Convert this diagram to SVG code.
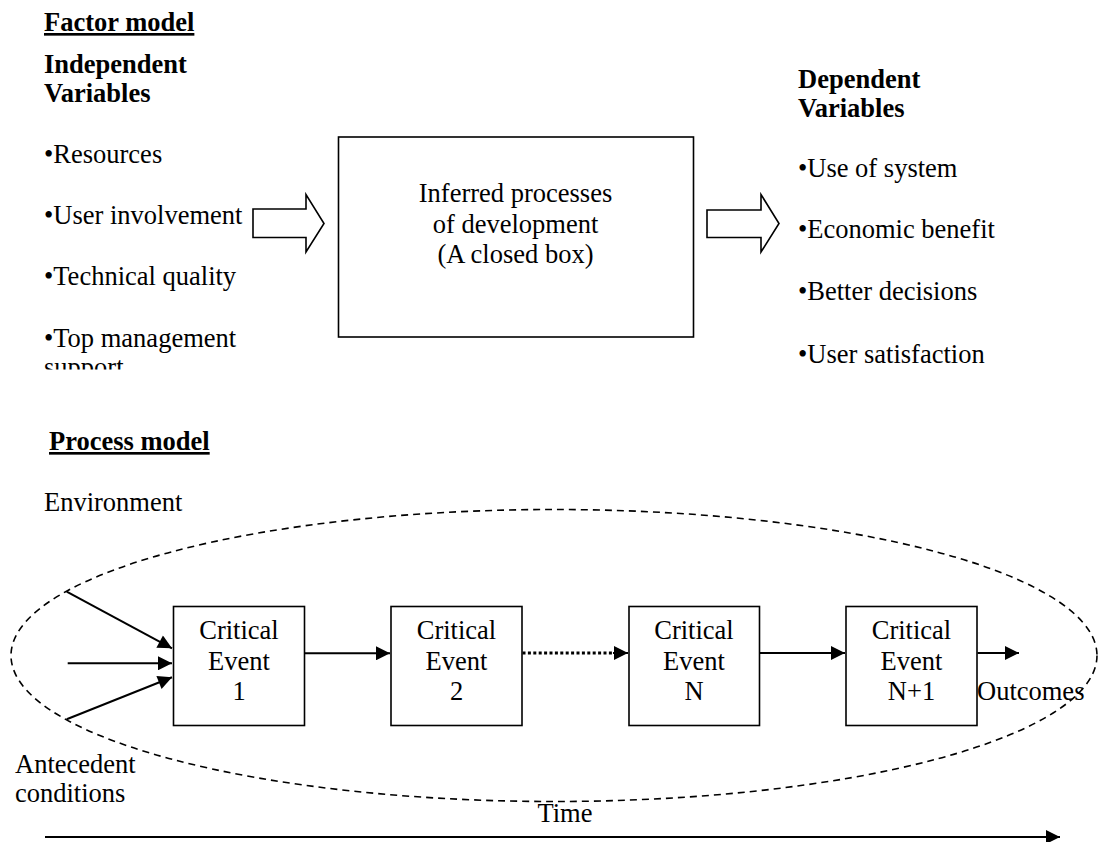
<svg xmlns="http://www.w3.org/2000/svg" width="1099" height="842" viewBox="0 0 1099 842">
  <defs>
    <style>
      .t { font-family: "Liberation Serif", "Times New Roman", serif; font-size: 26.5px; fill: #000; }
      .b { font-weight: bold; }
      .u { text-decoration: underline; }
      .c { text-anchor: middle; }
      .box { fill: #fff; stroke: #000; stroke-width: 1.6; }
      .blk { fill: #fff; stroke: #000; stroke-width: 1.6; stroke-linejoin: miter; }
      .ln { stroke: #000; stroke-width: 2; fill: none; }
      .dot { stroke: #000; stroke-width: 3.2; fill: none; stroke-dasharray: 3 2.4; }
      .env { fill: none; stroke: #000; stroke-width: 1.6; stroke-dasharray: 7 5; }
    </style>
    <marker id="ah" viewBox="0 0 10 10" refX="10" refY="5" markerUnits="userSpaceOnUse" markerWidth="15" markerHeight="14" orient="auto">
      <path d="M0,0 L10,5 L0,10 z" fill="#000"/>
    </marker>
    <clipPath id="cutTop">
      <rect x="0" y="0" width="1099" height="369.5"/>
    </clipPath>
  </defs>

  <rect width="1099" height="842" fill="#fff"/>

  <!-- Factor model -->
  <g id="factor-model">
    <text class="t b u" x="44" y="31">Factor model</text>
    <g id="independent-vars" clip-path="url(#cutTop)">
      <text class="t b" x="44" y="73">Independent</text>
      <text class="t b" x="44" y="102">Variables</text>
      <text class="t" x="44" y="163">•Resources</text>
      <text class="t" x="44" y="223.5">•User involvement</text>
      <text class="t" x="44" y="285">•Technical quality</text>
      <text class="t" x="44" y="346.5">•Top management</text>
      <text class="t" x="44" y="375.5">support</text>
    </g>
    <g id="arrow-in">
      <polygon class="blk" points="253,209 306,209 306,194.5 324,223.5 306,252 306,237.5 253,237.5"/>
    </g>
    <g id="closed-box">
      <rect class="box" x="338.5" y="137" width="355" height="200"/>
      <text class="t c" x="515.5" y="201.5">Inferred processes</text>
      <text class="t c" x="515.5" y="232.5">of development</text>
      <text class="t c" x="515.5" y="263">(A closed box)</text>
    </g>
    <g id="arrow-out">
      <polygon class="blk" points="707,210 761,210 761,194.5 779,223.5 761,252 761,237.5 707,237.5"/>
    </g>
    <g id="dependent-vars" clip-path="url(#cutTop)">
      <text class="t b" x="798" y="88">Dependent</text>
      <text class="t b" x="798" y="117">Variables</text>
      <text class="t" x="798" y="177">•Use of system</text>
      <text class="t" x="798" y="238">•Economic benefit</text>
      <text class="t" x="798" y="300">•Better decisions</text>
      <text class="t" x="798" y="363">•User satisfaction</text>
    </g>
  </g>

  <!-- Process model -->
  <g id="process-model">
    <text class="t b u" x="49" y="450">Process model</text>
    <text class="t" x="44" y="511">Environment</text>
    <ellipse id="environment" class="env" cx="554" cy="655.5" rx="543" ry="146"/>

    <g id="event-1">
      <rect class="box" x="173.5" y="606.5" width="131" height="119"/>
      <text class="t c" x="239" y="638.5">Critical</text>
      <text class="t c" x="239" y="669.5">Event</text>
      <text class="t c" x="239" y="699.5">1</text>
    </g>
    <g id="event-2">
      <rect class="box" x="391" y="606.5" width="131" height="119"/>
      <text class="t c" x="456.5" y="638.5">Critical</text>
      <text class="t c" x="456.5" y="669.5">Event</text>
      <text class="t c" x="456.5" y="699.5">2</text>
    </g>
    <g id="event-n">
      <rect class="box" x="629" y="606.5" width="130.5" height="119"/>
      <text class="t c" x="694" y="638.5">Critical</text>
      <text class="t c" x="694" y="669.5">Event</text>
      <text class="t c" x="694" y="699.5">N</text>
    </g>
    <g id="event-n1">
      <rect class="box" x="846" y="606.5" width="131" height="119"/>
      <text class="t c" x="911.5" y="638.5">Critical</text>
      <text class="t c" x="911.5" y="669.5">Event</text>
      <text class="t c" x="911.5" y="699.5">N+1</text>
    </g>

    <text class="t" x="977" y="700">Outcomes</text>
    <text class="t" x="15" y="773">Antecedent</text>
    <text class="t" x="15" y="802">conditions</text>
    <text class="t c" x="565" y="822">Time</text>
  </g>

  <!-- Connectors -->
  <g id="connectors">
    <line class="ln" x1="66.7" y1="591.7" x2="172" y2="648.3" marker-end="url(#ah)"/>
    <line class="ln" x1="67.7" y1="663.3" x2="172" y2="663.3" marker-end="url(#ah)"/>
    <line class="ln" x1="66.7" y1="719.3" x2="172" y2="677.3" marker-end="url(#ah)"/>
    <line class="ln" x1="305" y1="653.3" x2="390" y2="653.3" marker-end="url(#ah)"/>
    <line class="dot" x1="522.5" y1="653" x2="613" y2="653"/>
    <line class="ln" x1="613" y1="653" x2="628" y2="653" marker-end="url(#ah)"/>
    <line class="ln" x1="760" y1="653" x2="845" y2="653" marker-end="url(#ah)"/>
    <line class="ln" x1="977.5" y1="653" x2="1019" y2="653" marker-end="url(#ah)"/>
    <line class="ln" x1="45" y1="837" x2="1060" y2="837" marker-end="url(#ah)"/>
  </g>
</svg>
